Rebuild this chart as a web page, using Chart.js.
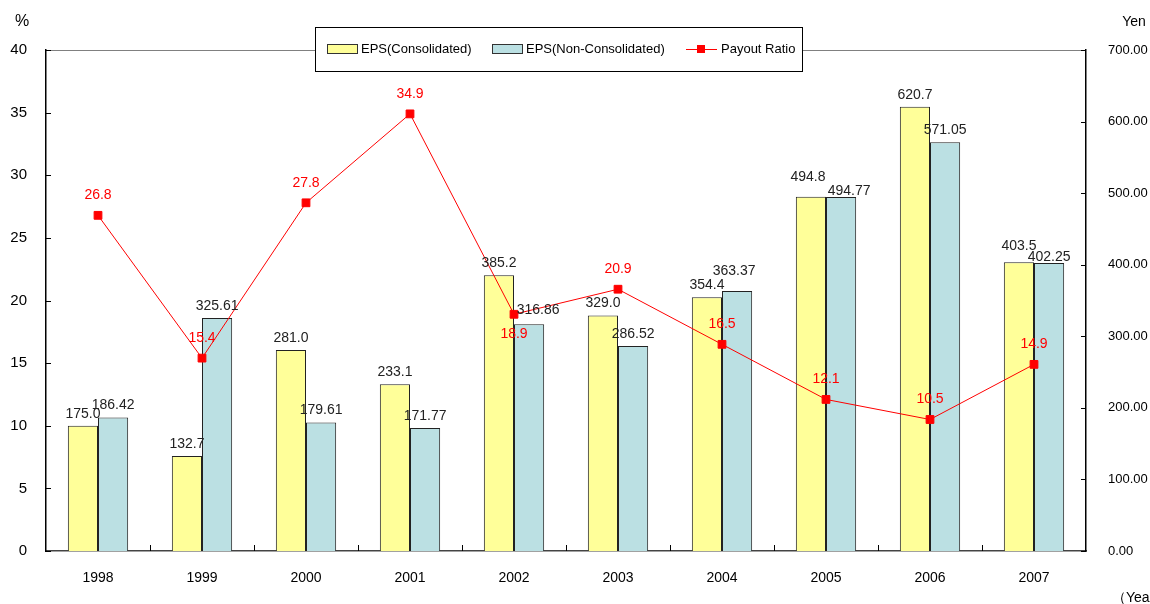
<!DOCTYPE html>
<html>
<head>
<meta charset="utf-8">
<script src="https://cdn.jsdelivr.net/npm/chart.js@4/dist/chart.umd.min.js"></script>
<style>
  body { margin: 0; background: #fff; }
  canvas { display: block; }
</style>
</head>
<body>
<canvas id="epsChart" width="1150" height="604"></canvas>
<script>
// data
const years = ['1998', '1999', '2000', '2001', '2002', '2003', '2004', '2005', '2006', '2007'];
const epsConsolidated = [175.0, 132.7, 281.0, 233.1, 385.2, 329.0, 354.4, 494.8, 620.7, 403.5];
const epsNonConsolidated = [186.42, 325.61, 179.61, 171.77, 316.86, 286.52, 363.37, 494.77, 571.05, 402.25];
const payoutRatio = [26.8, 15.4, 27.8, 34.9, 18.9, 20.9, 16.5, 12.1, 10.5, 14.9];

const YELLOW = '#FFFF99';
const CYAN = '#BBE0E3';
const RED = '#FF0000';
const FONT = '"Liberation Sans", Arial, sans-serif';

// hand-placed bar labels in the original ("dataset-index": [dx, dy])
const labelNudge = {
    '1-4': [9, -2],
    '1-6': [-3, -8],
    '0-7': [-3, -8],
    '1-7': [8, 6],
    '0-8': [0, 0],
    '0-9': [0, -4],
    '1-9': [0, 6]
};

// labels, inward tick marks, legend box
const extras = {
    id: 'extras',
    afterDatasetsDraw(chart) {
        const ctx = chart.ctx;
        ctx.save();
        ctx.font = '14px ' + FONT;
        ctx.textAlign = 'center';
        ctx.textBaseline = 'bottom';
        ctx.fillStyle = '#222';
        [0, 1].forEach(d => {
            const meta = chart.getDatasetMeta(d);
            const vals = chart.data.datasets[d].data;
            meta.data.forEach((el, i) => {
                const [dx, dy] = labelNudge[d + '-' + i] || [0, 0];
                ctx.fillText(vals[i].toFixed(d === 0 ? 1 : 2), el.x + dx, el.y - 5 + dy);
            });
        });
        ctx.fillStyle = RED;
        const lineMeta = chart.getDatasetMeta(2);
        lineMeta.data.forEach((el, i) => {
            // 2002 label sits under its marker
            if (i === 4) {
                ctx.textBaseline = 'top';
                ctx.fillText(payoutRatio[i].toFixed(1), el.x, el.y + 13);
                ctx.textBaseline = 'bottom';
            } else {
                ctx.fillText(payoutRatio[i].toFixed(1), el.x, el.y - 13);
            }
        });
        ctx.restore();
    },
    afterDraw(chart) {
        const {ctx, chartArea: a, scales} = chart;
        ctx.save();
        // top frame line
        ctx.strokeStyle = '#808080';
        ctx.lineWidth = 1;
        ctx.beginPath();
        ctx.moveTo(a.left, a.top + 0.5);
        ctx.lineTo(a.right, a.top + 0.5);
        ctx.stroke();

        // tick marks pointing into the plot
        ctx.strokeStyle = '#000';
        ctx.beginPath();
        scales.y.ticks.forEach(t => {
            const y = Math.round(scales.y.getPixelForValue(t.value)) + 0.5;
            ctx.moveTo(a.left, y);
            ctx.lineTo(a.left + 5, y);
        });
        scales.y1.ticks.forEach(t => {
            const y = Math.round(scales.y1.getPixelForValue(t.value)) + 0.5;
            ctx.moveTo(a.right, y);
            ctx.lineTo(a.right - 5, y);
        });
        for (let i = 0; i < years.length - 1; i++) {
            const x = Math.round((scales.x.getPixelForValue(i) + scales.x.getPixelForValue(i + 1)) / 2) + 0.5;
            ctx.moveTo(x, a.bottom);
            ctx.lineTo(x, a.bottom - 6);
        }
        ctx.stroke();

        // unit captions
        ctx.fillStyle = '#000';
        ctx.font = '16px ' + FONT;
        ctx.textAlign = 'center';
        ctx.textBaseline = 'middle';
        ctx.fillText('%', 22, 22);
        ctx.font = '14px ' + FONT;
        ctx.fillText('Yen', 1134, 22);
        ctx.textAlign = 'left';
        ctx.fillText('（Year）', 1112, 598);

        // legend box
        const lx = 315, ly = 27, lw = 487, lh = 44, cy = ly + lh / 2;
        ctx.fillStyle = '#fff';
        ctx.fillRect(lx, ly, lw, lh);
        ctx.strokeStyle = '#000';
        ctx.strokeRect(lx + 0.5, ly + 0.5, lw, lh);

        ctx.font = '13px ' + FONT;
        ctx.textAlign = 'left';
        ctx.textBaseline = 'middle';
        ctx.lineWidth = 1;
        ctx.fillStyle = YELLOW;
        ctx.fillRect(327, cy - 5, 30, 9);
        ctx.strokeStyle = '#333';
        ctx.strokeRect(327.5, cy - 4.5, 30, 9);
        ctx.fillStyle = '#000';
        ctx.fillText(chart.data.datasets[0].label, 361, cy);

        ctx.fillStyle = CYAN;
        ctx.fillRect(492, cy - 5, 30, 9);
        ctx.strokeRect(492.5, cy - 4.5, 30, 9);
        ctx.fillStyle = '#000';
        ctx.fillText(chart.data.datasets[1].label, 526, cy);

        ctx.strokeStyle = RED;
        ctx.beginPath();
        ctx.moveTo(686, cy + 0.5);
        ctx.lineTo(717, cy + 0.5);
        ctx.stroke();
        ctx.fillStyle = RED;
        ctx.fillRect(697, cy - 4, 8, 8);
        ctx.fillStyle = '#000';
        ctx.fillText(chart.data.datasets[2].label, 721, cy);
        ctx.restore();
    }
};

const ctx = document.getElementById('epsChart').getContext('2d');
const epsChart = new Chart(ctx, {
    data: {
        labels: years,
        datasets: [{
            type: 'bar',
            label: 'EPS(Consolidated)',
            data: epsConsolidated,
            backgroundColor: YELLOW,
            borderColor: '#222',
            borderWidth: 1,
            yAxisID: 'y1',
            order: 1
        }, {
            type: 'bar',
            label: 'EPS(Non-Consolidated)',
            data: epsNonConsolidated,
            backgroundColor: CYAN,
            borderColor: '#222',
            borderWidth: 1,
            yAxisID: 'y1',
            order: 1
        }, {
            type: 'line',
            label: 'Payout Ratio',
            data: payoutRatio,
            borderColor: RED,
            backgroundColor: RED,
            borderWidth: 1,
            pointStyle: 'rect',
            pointRadius: 5.5,
            pointHoverRadius: 5.5,
            tension: 0,
            yAxisID: 'y',
            order: 0
        }]
    },
    options: {
        responsive: false,
        animation: false,
        layout: {
            padding: { top: 50, left: 0, right: 0, bottom: 0 }
        },
        datasets: {
            bar: {
                categoryPercentage: 0.58,
                barPercentage: 1.0
            }
        },
        plugins: {
            legend: { display: false },
            tooltip: { enabled: false }
        },
        scales: {
            x: {
                grid: { display: false, drawTicks: false },
                border: { display: true, color: '#444', width: 1.5 },
                ticks: {
                    color: '#000',
                    font: { family: FONT, size: 14 },
                    padding: 19
                },
                afterFit: scale => { scale.height = 53; }
            },
            y: {
                position: 'left',
                min: 0,
                max: 40,
                grid: { display: false, drawTicks: false },
                border: { display: true, color: '#000', width: 1.5 },
                ticks: {
                    stepSize: 5,
                    color: '#000',
                    font: { family: FONT, size: 15 },
                    padding: 19
                },
                afterFit: scale => { scale.width = 46; }
            },
            y1: {
                position: 'right',
                min: 0,
                max: 700,
                grid: { display: false, drawTicks: false },
                border: { display: true, color: '#000', width: 1.5 },
                ticks: {
                    stepSize: 100,
                    color: '#000',
                    font: { family: FONT, size: 13 },
                    padding: 22,
                    callback: value => value.toFixed(2)
                },
                afterFit: scale => { scale.width = 64; }
            }
        }
    },
    plugins: [extras]
});
</script>
</body>
</html>
